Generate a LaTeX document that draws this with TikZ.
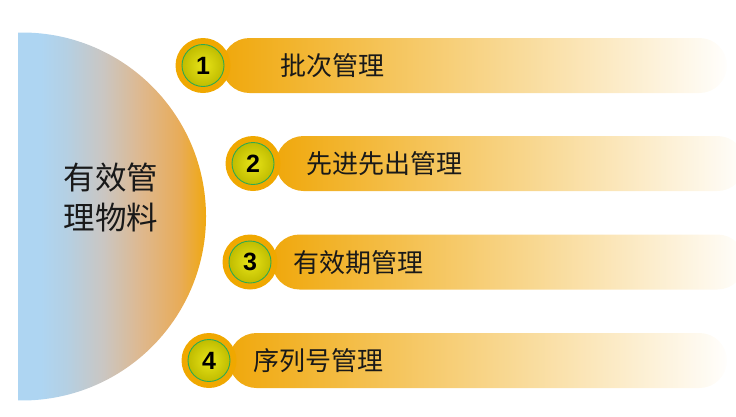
\documentclass[tikz,border=0pt]{standalone}
\usepackage{fontspec}
\setmainfont{Liberation Sans}
\newfontfamily\cjkfont{Noto Sans CJK SC}
\newfontfamily\numfont{Liberation Sans}
\definecolor{orng}{RGB}{240,168,12}
\definecolor{pale}{RGB}{255,254,252}
\definecolor{lblue}{RGB}{174,213,242}
\definecolor{lblue2}{RGB}{180,208,228}
\definecolor{midg}{RGB}{202,198,194}
\definecolor{peach}{RGB}{222,184,142}
\definecolor{lorng}{RGB}{232,172,90}
\definecolor{ringc}{RGB}{240,168,0}
\definecolor{yin}{RGB}{232,228,24}
\definecolor{yout}{RGB}{192,188,0}
\definecolor{gborder}{RGB}{46,170,80}
\pgfdeclarehorizontalshading{discshade}{100bp}{color(0bp)=(lblue); color(25bp)=(lblue); color(31bp)=(lblue); color(37.5bp)=(lblue2); color(47.5bp)=(midg); color(57.5bp)=(peach); color(67.5bp)=(lorng); color(75bp)=(orng); color(100bp)=(orng)}
\tikzset{
  barshape/.style={left color=orng, right color=pale},
  ringshape/.style={circle, fill=ringc, minimum size=55pt, inner sep=0pt},
  ballshape/.style={circle, shading=radial, inner color=yin, outer color=yout, draw=gborder, line width=0.9pt, minimum size=42pt, inner sep=0pt, font=\numfont\bfseries\fontsize{25}{25}\selectfont},
  bartext/.style={anchor=west, inner sep=0pt, font=\cjkfont\fontsize{26}{26}\selectfont, text=black!90},
}
\begin{document}
\begin{tikzpicture}[x=1pt,y=-1pt]
\useasboundingbox (0,0) rectangle (736,416);
% half disc
\shade[shading=discshade]
  (18,32.54) arc[start angle=-91.25, end angle=91.25, radius=184] -- cycle;
\node[align=center, inner sep=0pt, font=\cjkfont\fontsize{31.5}{40}\selectfont, text=black!90] (center) at (111,197) {有效管\\理物料};
% bars
\shade[barshape] (222,38) [rounded corners=27.5] rectangle (727,93);
\shade[barshape] (276,136) [rounded corners=27.5] rectangle (745,191);
\shade[barshape] (272,234.5) [rounded corners=27.5] rectangle (745,289.5);
\shade[barshape] (229,333) [rounded corners=27.5] rectangle (727,388);
% badges
\node[ringshape] (r1) at (203,65.5) {};
\node[ballshape] (n1) at (r1) {1};
\node[ringshape] (r2) at (253,163.5) {};
\node[ballshape] (n2) at (r2) {2};
\node[ringshape] (r3) at (250,262) {};
\node[ballshape] (n3) at (r3) {3};
\node[ringshape] (r4) at (209,360.5) {};
\node[ballshape] (n4) at (r4) {4};
% labels
\node[bartext] (t1) at (280,66) {批次管理};
\node[bartext] (t2) at (306,164) {先进先出管理};
\node[bartext] (t3) at (293,263) {有效期管理};
\node[bartext] (t4) at (253,361) {序列号管理};
\end{tikzpicture}
\end{document}
